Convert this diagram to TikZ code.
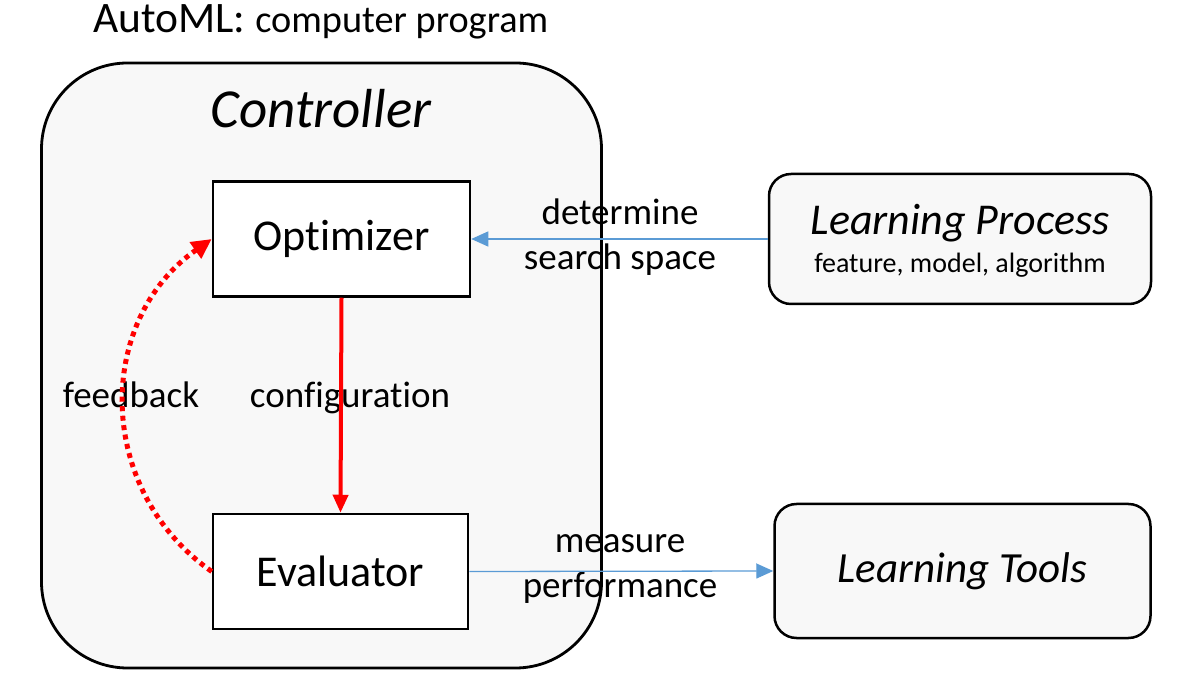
\documentclass[tikz,border=0pt]{standalone}
\usepackage{fontspec}
\setmainfont{Carlito}[Ligatures=CommonOff]
\usetikzlibrary{positioning, arrows.meta}
\definecolor{linkblue}{HTML}{5B9BD5}
\definecolor{panelgrey}{HTML}{F8F8F8}

\begin{document}
\begin{tikzpicture}[x=1pt, y=1pt,
    block/.style={draw, line width=2.5pt, fill=white, minimum width=257pt, minimum height=115pt, inner sep=0pt, font=\fontsize{44}{52}\selectfont},
    tool/.style={draw, line width=2.5pt, fill=panelgrey, rounded corners=22pt, inner sep=0pt},
    lbl/.style={anchor=base, inner sep=0pt, font=\fontsize{37}{44}\selectfont},
    flow/.style={red, line width=4pt, -{Triangle[length=18pt, width=15pt]}},
    feedback/.style={red, line width=5pt, dash pattern=on 5pt off 4.5pt, -{Triangle[length=20pt, width=19pt]}},
    link/.style={linkblue, line width=1.3pt, -{Triangle[length=17pt, width=15pt]}}
]
\useasboundingbox (0,0) rectangle (1188,680);

\node[anchor=base west, inner sep=0pt] (title) at (93,647) {{\fontsize{43.5}{50}\selectfont AutoML:\ }{\fontsize{38.3}{44}\selectfont computer program}};

\node[draw, line width=2.8pt, fill=panelgrey, rounded corners=86pt, minimum width=560pt, minimum height=605pt] (ctrl) at (321.5,314.5) {};
\node[anchor=base, inner sep=0pt, font=\fontsize{55}{64}\selectfont\itshape] (ctrltext) at (321,552) {Controller};

\node[block] (opt) at (341.5,441) {Optimizer};
\node[block, minimum width=255pt] (eval) at (340.5,108.5) {Evaluator};

\node[tool, minimum width=382pt, minimum height=130pt] (lp) at (960,441) {};
\node[anchor=base, inner sep=0pt, font=\fontsize{44}{52}\selectfont\itshape] (lptitle) at (960,445) {Learning Process};
\node[anchor=base, inner sep=0pt, font=\fontsize{28}{34}\selectfont] (lpsub) at (960,407) {feature, model, algorithm};

\node[tool, minimum width=376pt, minimum height=134pt, font=\fontsize{43}{50}\selectfont\itshape] (lt) at (962.5,109) {Learning Tools};

\node[lbl] (determine) at (620,455) {determine};
\node[lbl] (space) at (620,410) {search space};
\node[lbl] (measure) at (620,128) {measure};
\node[lbl] (perf) at (620,83) {performance};
\node[lbl] (config) at (350,272) {configuration};
\node[lbl] (fb) at (131,272) {feedback};

\draw[flow] (opt.south) -- (eval.north);
\draw[feedback] (eval.west) to[out=145, in=215, looseness=1.1] (opt.west);
\draw[link] (lp.west) -- (opt.east);
\draw[link] (eval.east) -- (lt.west);
\end{tikzpicture}
\end{document}
